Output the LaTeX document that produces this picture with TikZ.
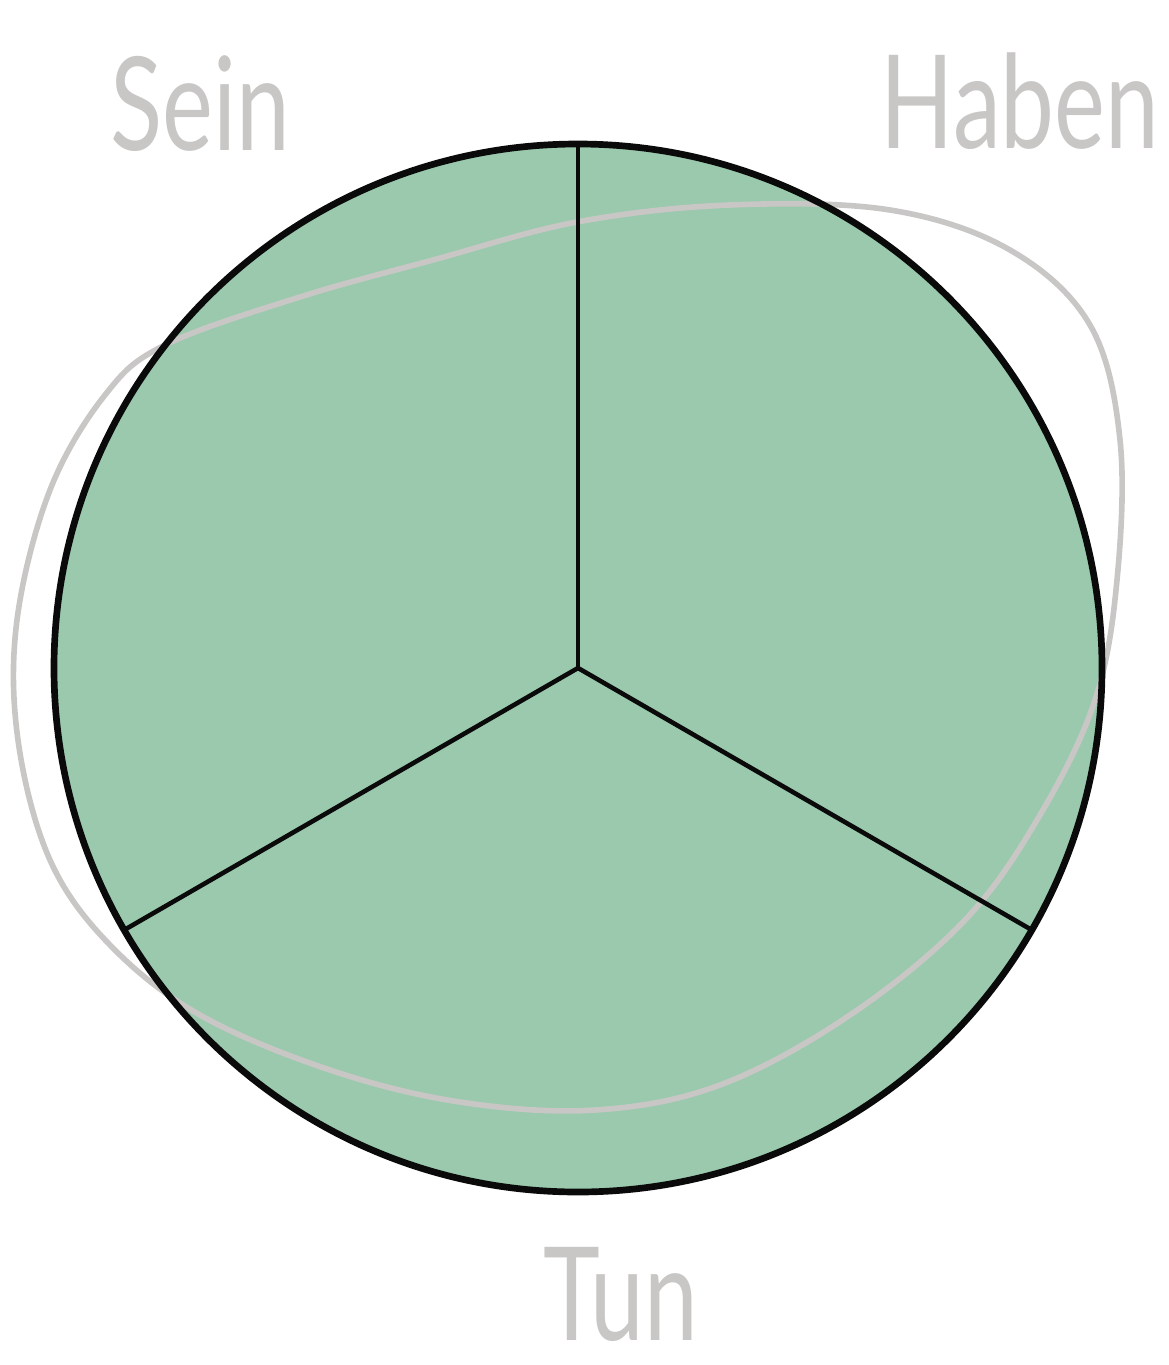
\documentclass[tikz,border=0pt]{standalone}
\usepackage{fontspec}
\setmainfont{Lato}
\usepackage{tikz}
\definecolor{SageGreen}{HTML}{9AC9AD}
\definecolor{PencilGray}{HTML}{C9C7C5}
\definecolor{Rim}{HTML}{0A0A0A}
\tikzset{
  wheelfill/.style={circle, fill=SageGreen, minimum size=10.48cm,
                    inner sep=0pt, outer sep=0pt},
  rim/.style={draw=Rim, line width=1.9pt},
  spoke/.style={draw=Rim, line width=1.3pt},
  loopline/.style={draw=PencilGray, line width=1.6pt},
  lab/.style={anchor=base, text=PencilGray, xscale=0.74, inner sep=0pt,
              font=\fontsize{37}{40}\selectfont},
}

\begin{document}
\begin{tikzpicture}
    \useasboundingbox (0,0) rectangle (11.69,-13.65);

    % the wheel: fill first, the pencil loop above it, rim and spokes on top
    \node[wheelfill] (wheel) at (5.78,-6.68) {};

    \draw[loopline] plot[smooth cycle, tension=0.6] coordinates {
      (5.77,-2.22) (7.30,-2.05) (8.90,-2.10) (10.10,-2.50) (10.90,-3.25)
      (11.20,-4.40) (11.17,-5.80) (10.95,-7.00) (10.40,-8.15) (9.65,-9.20)
      (8.50,-10.15) (7.20,-10.85) (5.95,-11.10) (4.60,-11.02) (3.30,-10.70)
      (2.00,-10.15) (1.10,-9.45) (0.50,-8.60) (0.18,-7.40) (0.17,-6.20)
      (0.50,-4.90) (1.05,-3.95) (1.65,-3.45) (3.00,-2.97) (4.33,-2.60)
    };

    \draw[rim] (wheel.center) circle[radius=5.24];
    \draw[spoke] (wheel.center) -- (wheel.90);
    \draw[spoke] (wheel.center) -- (wheel.210);
    \draw[spoke] (wheel.center) -- (wheel.330);

    \node[lab] (sein) at (2.00,-1.50) {Sein};
    \node[lab] (haben) at (10.20,-1.48) {Haben};
    \node[lab] (tun) at (6.21,-13.40) {Tun};
\end{tikzpicture}
\end{document}
